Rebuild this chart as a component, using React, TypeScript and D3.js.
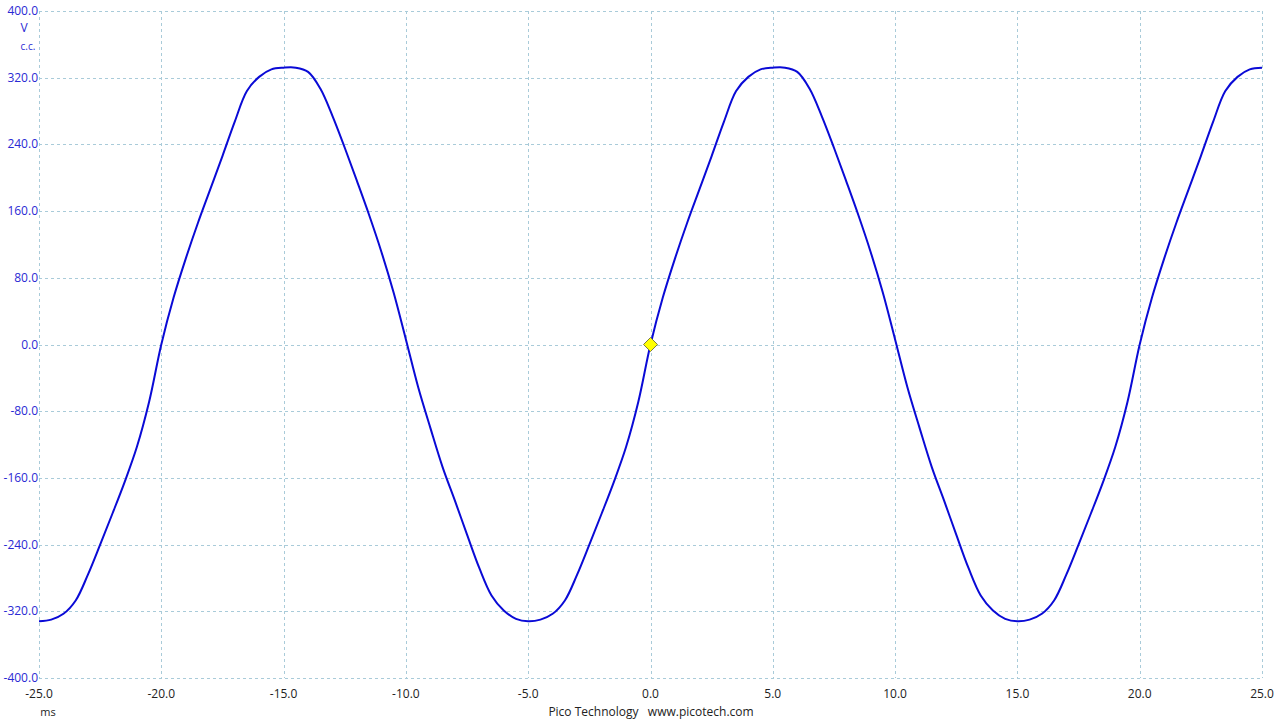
import React from "react";
import * as d3 from "d3";

// Time axis samples (ms), read every 0.5 ms from the trace
const timeMs: number[] = d3.range(-25, 25.0001, 0.5).map((v) => +v.toFixed(1));

// Voltage values (V) at each time sample
const voltage: number[] = [
  -332, -330, -323, -307, -276, -240, -203, -165, -123, -69,
  0, 56, 103, 146, 186, 226, 267, 304, 321, 330,
  332, 332, 327, 307, 274, 236, 196, 155, 111, 62,
  6, -51, -100, -147, -187, -228, -268, -301, -319, -329,
  -332, -330, -323, -307, -276, -240, -203, -165, -123, -69,
  0, 56, 103, 146, 186, 226, 267, 304, 321, 330,
  332, 332, 327, 307, 274, 236, 196, 155, 111, 62,
  6, -51, -100, -147, -187, -228, -268, -301, -319, -329,
  -332, -330, -323, -307, -276, -240, -203, -165, -123, -69,
  0, 56, 103, 146, 186, 226, 267, 304, 321, 330,
  332,
];

const xTicks: number[] = [-25, -20, -15, -10, -5, 0, 5, 10, 15, 20, 25];
const yTicks: number[] = [400, 320, 240, 160, 80, 0, -80, -160, -240, -320, -400];

const triggerPoint = { t: 0, v: 0 };

const W = 1280;
const H = 720;
const LEFT = 39;
const RIGHT = 1262;
const TOP = 11;
const BOTTOM = 678;

export default function App() {
  const x = d3.scaleLinear().domain([-25, 25]).range([LEFT, RIGHT]);
  const y = d3.scaleLinear().domain([-400, 400]).range([BOTTOM, TOP]);

  const pts: [number, number][] = timeMs.map((t, i) => [t, voltage[i]]);
  const line = d3
    .line<[number, number]>()
    .x((d) => x(d[0]))
    .y((d) => y(d[1]))
    .curve(d3.curveCatmullRom.alpha(0.5));

  const gridColor = "#a9cbd9";
  const font = "'Open Sans', 'DejaVu Sans', sans-serif";
  const labelBlue = "#2a2ad4";
  const tx = x(triggerPoint.t);
  const ty = y(triggerPoint.v);
  const ds = 7;

  return (
    <svg
      width={W}
      height={H}
      style={{ position: "absolute", left: 0, top: 0, background: "#ffffff" }}
    >
      <rect x={0} y={0} width={W} height={H} fill="#ffffff" />
      {/* grid */}
      {xTicks.map((t) => (
        <line
          key={"gx" + t}
          x1={Math.round(x(t)) + 0.5}
          x2={Math.round(x(t)) + 0.5}
          y1={TOP}
          y2={BOTTOM}
          stroke={gridColor}
          strokeWidth={1}
          strokeDasharray="3,3"
        />
      ))}
      {yTicks.map((v) => (
        <line
          key={"gy" + v}
          x1={LEFT}
          x2={RIGHT}
          y1={Math.round(y(v)) + 0.5}
          y2={Math.round(y(v)) + 0.5}
          stroke={gridColor}
          strokeWidth={1}
          strokeDasharray="3,3"
        />
      ))}
      {/* y labels */}
      {yTicks.map((v) => (
        <text
          key={"ly" + v}
          x={LEFT - 1}
          y={y(v) + 4}
          textAnchor="end"
          fontFamily={font}
          fontSize={12}
          fill={labelBlue}
        >
          {v.toFixed(1)}
        </text>
      ))}
      <text x={24} y={32} textAnchor="middle" fontFamily={font} fontSize={12} fill={labelBlue}>
        V
      </text>
      <text x={28} y={50} textAnchor="middle" fontFamily={font} fontSize={10} fill={labelBlue}>
        c.c.
      </text>
      {/* x labels */}
      {xTicks.map((t) => (
        <text
          key={"lx" + t}
          x={x(t)}
          y={698}
          textAnchor="middle"
          fontFamily={font}
          fontSize={12}
          fill="#222222"
        >
          {t.toFixed(1)}
        </text>
      ))}
      <text x={48} y={716} textAnchor="middle" fontFamily={font} fontSize={11} fill="#222222">
        ms
      </text>
      <text x={651} y={716} textAnchor="middle" fontFamily={font} fontSize={12} fill="#222222" xmlSpace="preserve">
        {"Pico Technology   www.picotech.com"}
      </text>
      {/* trace */}
      <path
        d={line(pts) || ""}
        fill="none"
        stroke="#0a0ad6"
        strokeWidth={2}
        strokeLinejoin="round"
      />
      {/* trigger marker */}
      <path
        d={`M${tx},${ty - ds} L${tx + ds},${ty} L${tx},${ty + ds} L${tx - ds},${ty} Z`}
        fill="#ffff00"
        stroke="#7a7a40"
        strokeWidth={1}
      />
    </svg>
  );
}
